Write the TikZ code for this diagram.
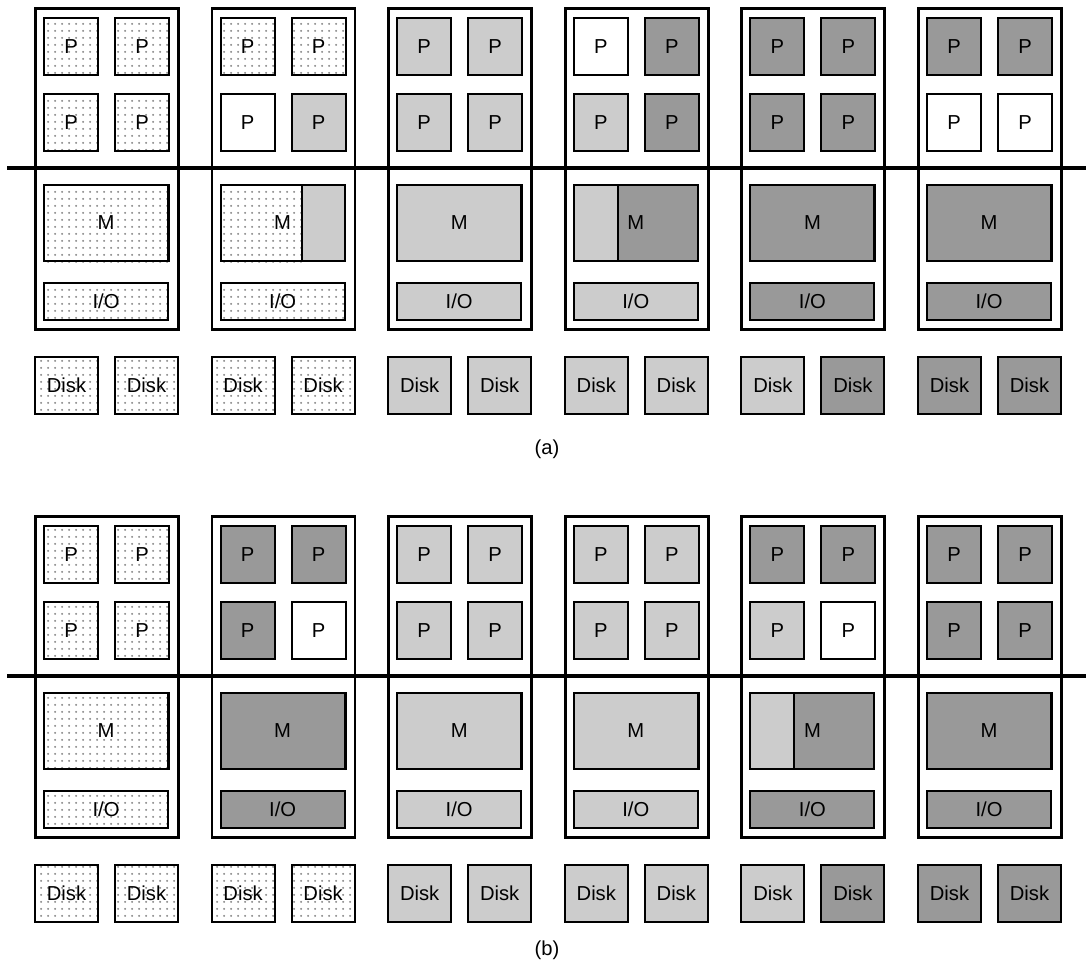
\documentclass[tikz,border=0pt]{standalone}
\usepackage{fontspec}
\setmainfont{Liberation Sans}
\usetikzlibrary{calc,backgrounds,patterns.meta}

\tikzset{
  fdots/.style={pattern={Dots[distance=4pt,radius=0.7pt]},pattern color=black!45},
  flight/.style={fill=black!20},
  fdark/.style={fill=black!40},
  fwhite/.style={fill=white},
  unitbox/.style={draw,line width=1.6pt,inner sep=0pt,anchor=north west,
    minimum width=143*\u,minimum height=321*\u},
  part/.style={draw,line width=1.15pt,inner sep=0pt,anchor=north west,
    font=\fontsize{11.5}{13}\selectfont},
  pbox/.style={part,minimum width=54*\u,minimum height=57*\u},
  mbox/.style={part,minimum width=124*\u,minimum height=76*\u},
  iobox/.style={part,minimum width=124*\u,minimum height=37*\u},
  diskbox/.style={part,minimum width=63*\u,minimum height=57*\u},
}
\def\u{0.02cm}

\begin{document}
\begin{tikzpicture}[x=0.02cm,y=-0.02cm]
\useasboundingbox (0,0) rectangle (1086,964);
% one column per unit: four P, M (maybe split), I/O, two disks below
\foreach \pn/\yo/\c/\pa/\pb/\pc/\pd/\ml/\ms/\mr/\io/\da/\db in {
  a/0/0/fdots/fdots/fdots/fdots/fdots/1/fdots/fdots/fdots/fdots,
  a/0/1/fdots/fdots/fwhite/flight/fdots/0.65/flight/fdots/fdots/fdots,
  a/0/2/flight/flight/flight/flight/flight/1/flight/flight/flight/flight,
  a/0/3/fwhite/fdark/flight/fdark/flight/0.355/fdark/flight/flight/flight,
  a/0/4/fdark/fdark/fdark/fdark/fdark/1/fdark/fdark/flight/fdark,
  a/0/5/fdark/fdark/fwhite/fwhite/fdark/1/fdark/fdark/fdark/fdark,
  b/508/0/fdots/fdots/fdots/fdots/fdots/1/fdots/fdots/fdots/fdots,
  b/508/1/fdark/fdark/fdark/fwhite/fdark/1/fdark/fdark/fdots/fdots,
  b/508/2/flight/flight/flight/flight/flight/1/flight/flight/flight/flight,
  b/508/3/flight/flight/flight/flight/flight/1/flight/flight/flight/flight,
  b/508/4/fdark/fdark/flight/fwhite/flight/0.355/fdark/fdark/flight/fdark,
  b/508/5/fdark/fdark/fdark/fdark/fdark/1/fdark/fdark/fdark/fdark}{
  \pgfmathsetmacro{\xo}{34+176.6*\c}
  \node[unitbox] (U-\pn\c) at (\xo,\yo+7) {};
  \node[pbox,\pa] (P1-\pn\c) at (\xo+9,\yo+17) {P};
  \node[pbox,\pb] (P2-\pn\c) at (\xo+80,\yo+17) {P};
  \node[pbox,\pc] (P3-\pn\c) at (\xo+9,\yo+93) {P};
  \node[pbox,\pd] (P4-\pn\c) at (\xo+80,\yo+93) {P};
  \node[mbox] (M-\pn\c) at (\xo+9,\yo+184) {M};
  \begin{scope}[on background layer]
    \path[\ml] (M-\pn\c.north west) rectangle ($(M-\pn\c.south west)!\ms!(M-\pn\c.south east)$);
    \path[\mr] ($(M-\pn\c.north west)!\ms!(M-\pn\c.north east)$) rectangle (M-\pn\c.south east);
  \end{scope}
  \draw[line width=1.15pt] ($(M-\pn\c.north west)!\ms!(M-\pn\c.north east)$)
    -- ($(M-\pn\c.south west)!\ms!(M-\pn\c.south east)$);
  \node[iobox,\io] (IO-\pn\c) at (\xo+9,\yo+282) {I/O};
  \node[diskbox,\da] (D1-\pn\c) at (\xo,\yo+356) {Disk};
  \node[diskbox,\db] (D2-\pn\c) at (\xo+80,\yo+356) {Disk};
}
\coordinate (sepa-l) at (7,168);
\coordinate (sepa-r) at (1086,168);
\coordinate (sepb-l) at (7,676);
\coordinate (sepb-r) at (1086,676);
\draw[line width=1.9pt] (sepa-l) -- (sepa-r);
\draw[line width=1.9pt] (sepb-l) -- (sepb-r);
\node[font=\fontsize{11.5}{13}\selectfont] (cap-a) at (547,449) {(a)};
\node[font=\fontsize{11.5}{13}\selectfont] (cap-b) at (547,950) {(b)};
\end{tikzpicture}
\end{document}
